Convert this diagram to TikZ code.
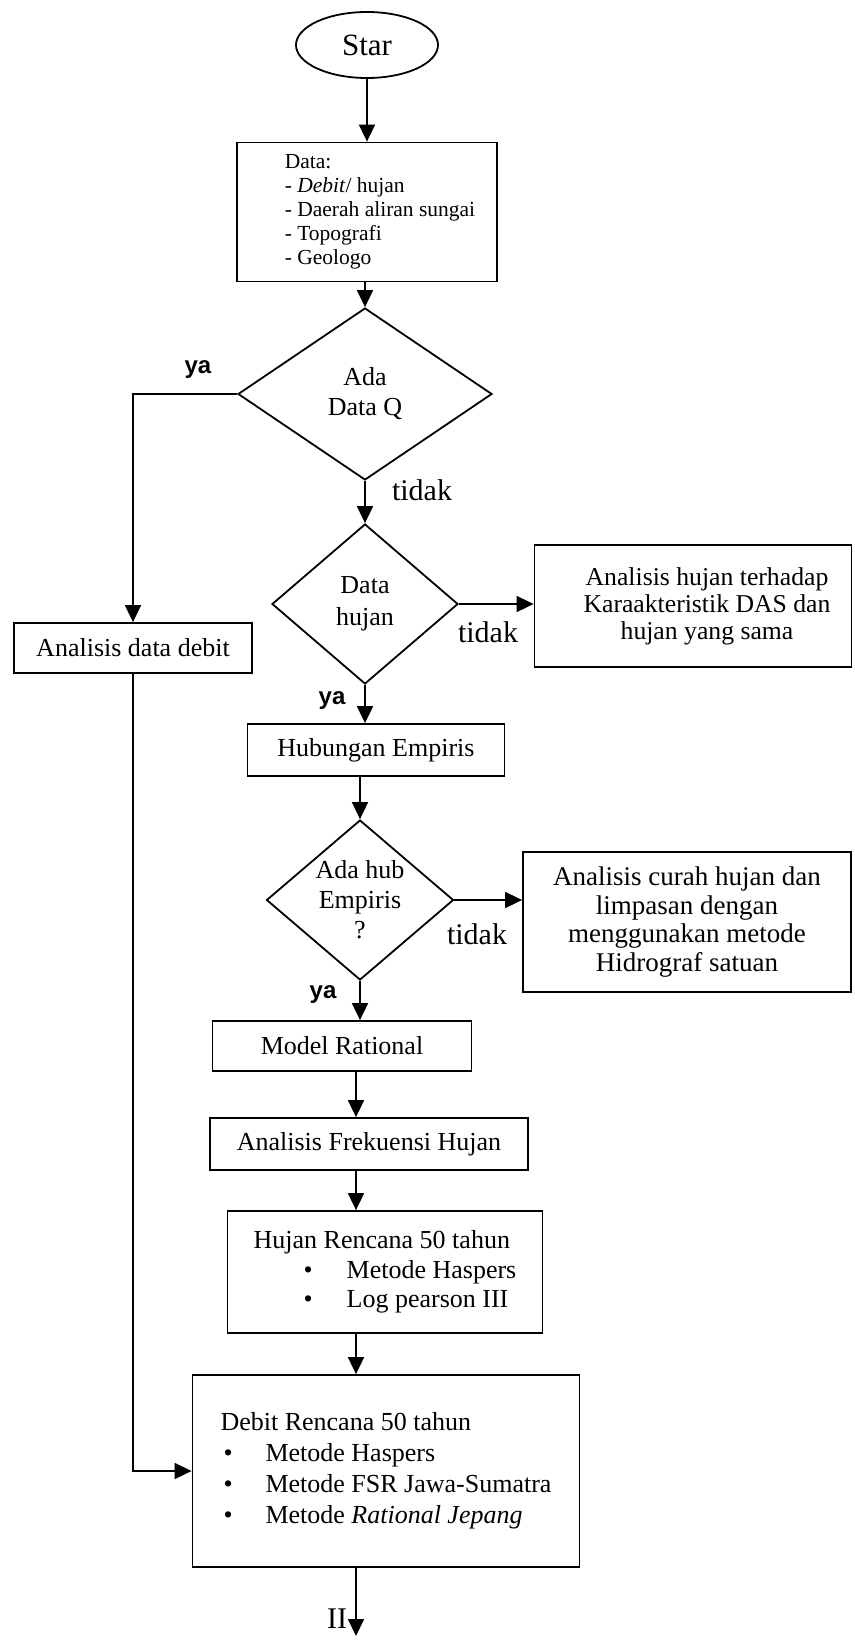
\documentclass[tikz,border=0pt]{standalone}
\usepackage{fontspec}
\setmainfont{Liberation Serif}
\newfontfamily\yafont{Liberation Sans}
\usetikzlibrary{shapes.geometric,arrows.meta}
\tikzset{box/.style={rectangle,draw,line width=1.8pt,inner sep=0pt,font=\fontsize{26}{28}\selectfont},
  decision/.style={diamond,draw,line width=1.8pt,inner sep=0pt,shape aspect=1.2,align=center,font=\fontsize{26}{30}\selectfont},
  terminal/.style={ellipse,draw,line width=1.8pt,inner sep=0pt,font=\fontsize{31}{33}\selectfont},
  yes/.style={font={\yafont\bfseries\fontsize{24}{26}\selectfont}},
  no/.style={font=\fontsize{30}{32}\selectfont},
  arr/.style={-{Triangle[length=17pt,width=16pt]},line width=1.8pt}}

\begin{document}
\begin{tikzpicture}[x=1pt,y=-1pt]
      \useasboundingbox (0,0) rectangle (854,1640);
      \node[terminal,minimum width=142,minimum height=66] (star) at (367,45) {Star};
      \node[box,minimum width=260,minimum height=139,align=left,font=\fontsize{21.5}{24}\selectfont] (data) at (367,212)
        {\hspace*{26pt}Data:\\\hspace*{26pt}- \textit{Debit}/ hujan\\\hspace*{26pt}- Daerah aliran sungai\\
         \hspace*{26pt}- Topografi\\\hspace*{26pt}- Geologo};
      \node[decision,minimum width=254,minimum height=172] (adaQ) at (365,394) {Ada\\Data Q};
      \node[box,minimum width=238,minimum height=50] (anDebit) at (133,648) {Analisis data debit};
      \node[decision,minimum width=186,minimum height=160,font=\fontsize{26}{32}\selectfont] (dataHujan) at (365,604) {Data\\hujan};
      \node[box,minimum width=317,minimum height=122,align=center,font=\fontsize{25.7}{27}\selectfont] (anHujan) at (693,606)
        {\hspace*{28pt}Analisis hujan terhadap\\\hspace*{28pt}Karaakteristik DAS dan\\\hspace*{28pt}hujan yang sama};
      \node[box,minimum width=257,minimum height=52] (hubEmp) at (376,750) {Hubungan Empiris};
      \node[decision,minimum width=187,minimum height=160] (adaHub) at (360,900) {Ada hub\\Empiris\\?};
      \node[box,minimum width=328,minimum height=140,align=center,font=\fontsize{27}{28.5}\selectfont] (anCurah) at (687,922)
        {Analisis curah hujan dan\\limpasan dengan\\menggunakan metode\\Hidrograf satuan};
      \node[box,minimum width=259,minimum height=50] (model) at (342,1046) {Model Rational};
      \node[box,minimum width=318,minimum height=52] (frek) at (369,1144) {Analisis Frekuensi Hujan};
      \node[box,minimum width=315,minimum height=122,align=left,font=\fontsize{26}{29.5}\selectfont] (hujanR) at (385,1272)
        {Hujan Rencana 50 tahun\\
         \hspace*{50pt}\makebox[43pt][l]{\textbullet}Metode Haspers\\
         \hspace*{50pt}\makebox[43pt][l]{\textbullet}Log pearson III};
      \node[box,minimum width=387,minimum height=192,align=left,font=\fontsize{26}{31}\selectfont] (debitR) at (386,1471)
        {Debit Rencana 50 tahun\\
         \hspace*{3pt}\makebox[42pt][l]{\textbullet}Metode Haspers\\
         \hspace*{3pt}\makebox[42pt][l]{\textbullet}Metode FSR Jawa-Sumatra\\
         \hspace*{3pt}\makebox[42pt][l]{\textbullet}Metode \textit{Rational Jepang}};
      \coordinate (axis) at (356,1100);
      \coordinate (endII) at (356,1636);

      \node[yes] (ya1) at (198,370) {ya};
      \node[no] (tidak1) at (422,490) {tidak};
      \node[no] (tidak2) at (488,632) {tidak};
      \node[yes] (ya2) at (332,701) {ya};
      \node[no] (tidak3) at (477,934) {tidak};
      \node[yes] (ya3) at (323,995) {ya};
      \node[no,font=\fontsize{30}{30}\selectfont] (ii) at (337,1619) {II};

      \draw[arr] (star) -- (data);
      \draw[arr] (data.south -| adaQ.north) -- (adaQ.north);
      \draw[arr] (adaQ.west) -| (anDebit.north);
      \draw[arr] (adaQ) -- (dataHujan);
      \draw[arr] (dataHujan.east) -- (dataHujan.east -| anHujan.west);
      \draw[arr] (dataHujan.south) -- (dataHujan.south |- hubEmp.north);
      \draw[arr] (hubEmp.south -| adaHub.north) -- (adaHub.north);
      \draw[arr] (adaHub.east) -- (adaHub.east -| anCurah.west);
      \draw[arr] (adaHub.south) -- (adaHub.south |- model.north);
      \draw[arr] (model.south -| axis) -- (frek.north -| axis);
      \draw[arr] (frek.south -| axis) -- (hujanR.north -| axis);
      \draw[arr] (hujanR.south -| axis) -- (debitR.north -| axis);
      \draw[arr] (anDebit.south) |- (debitR.west);
      \draw[arr] (debitR.south -| axis) -- (endII);
\end{tikzpicture}
\end{document}
